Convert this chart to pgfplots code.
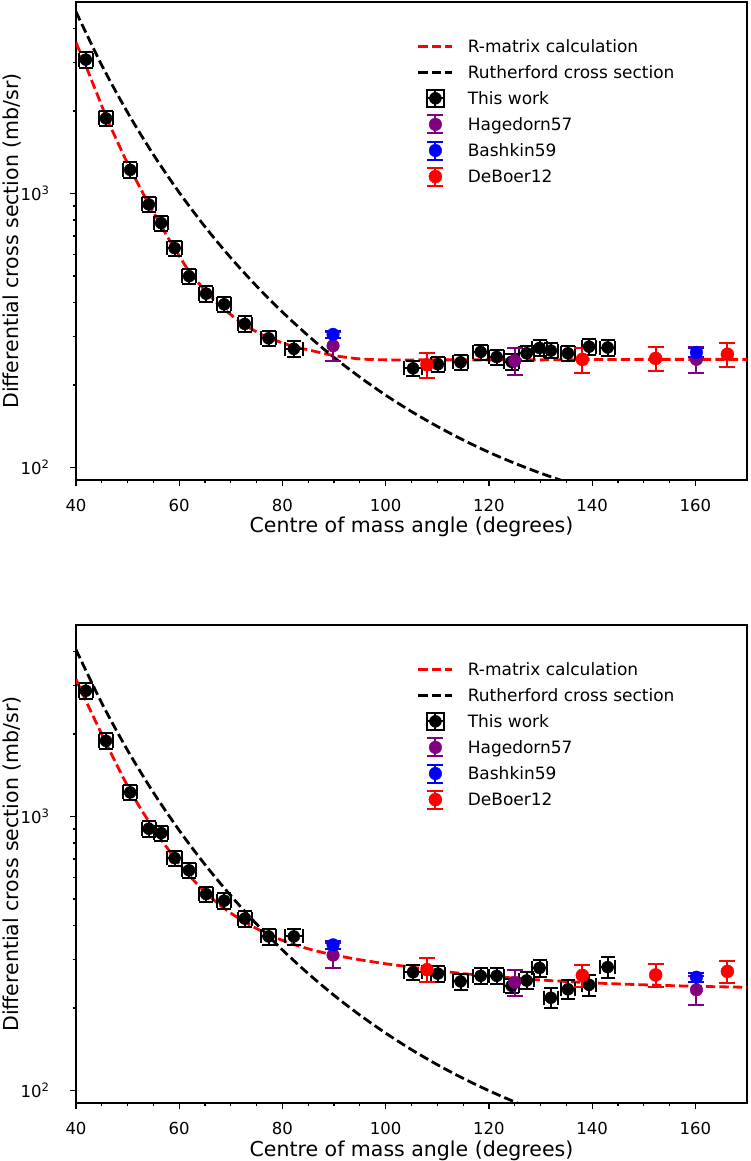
\documentclass[border=0pt]{standalone}
\usepackage{fontspec}
\setmainfont{DejaVu Sans}
\usepackage{pgfplots}
\pgfplotsset{compat=1.18}
\usepackage{pgfplotstable}

\definecolor{mplpurple}{HTML}{800080}

\tikzset{
  rdash/.style={red, line width=2.8pt, dash pattern=on 9.4pt off 4.1pt},
  kdash/.style={black, line width=2.8pt, dash pattern=on 9.4pt off 4.1pt},
}

% ---------------- upper panel ----------------
\pgfplotstableread{
x y
40 3556
42 2891
44 2328
46 1875
48 1549
50 1285
52 1086
54 923
56 791
58 681
60 592
62 516
64 465
66 422
68 388
70 361
72 338
74 320
77 299
80 285
82 277
86 266
90 256
95 249
100 247
110 247
120 247
130 247
140 247.5
150 248
160 248
170 248
}\topRmatrix

\pgfplotstableread{
x y
40 4604
45 2937
50 1975
55 1386
60 1008
65 755.9
70 582.1
75 458.7
80 369.0
85 302.4
90 252.0
95 213.6
100 183.6
105 160.0
110 141.2
115 126.0
120 113.6
125 103.6
130 95.3
135 88.4
}\topRuth

\pgfplotstableread{
x y ex ey
41.9 3080 1.4 200
45.8 1880 1.4 122
50.5 1220 1.4 79
54.1 912 1.4 59
56.5 780 1.4 51
59.1 632 1.4 41
61.9 499 1.4 32
65.2 431 1.4 28
68.7 394 1.4 26
72.7 334 1.4 22
77.3 296 1.4 19
82.2 271 1.8 18
105.3 230 1.8 15
110.1 238 1.4 15
114.5 242 1.4 16
118.4 264 1.4 17
121.5 253 1.4 16
124.4 243 1.4 16
127.3 261 1.4 17
129.8 273 1.4 18
132.0 267 1.4 17
135.3 261 1.4 17
139.4 276 1.4 18
143.0 274 1.4 18
}\topWork

\pgfplotstableread{
x y ey
89.8 278 33
125.0 245 28
160.2 248 27
}\topHag

\pgfplotstableread{
x y ey
89.8 306 10
160.2 263 11
}\topBash

\pgfplotstableread{
x y ey
108.0 237 25
138.1 248 26
152.3 250 26
166.2 259 26
}\topDeB

% ---------------- lower panel ----------------
\pgfplotstableread{
x y
40 3170
42 2624
44 2183
46 1824
48 1531
50 1291
52 1109
54 966
56 849
58 753
60 671
62 607
64 553
66 509
68 473
70 444
72 420
74 399
77 373
80 353
82 342
86 325
90 312
95 300
100 290
105 282
110 274
115 267
120 262
125 257
130 253
140 247
150 243
160 240
170 238
}\botRmatrix

\pgfplotstableread{
x y
40 4063
45 2592
50 1743
55 1223
60 889.6
65 667.1
70 513.7
75 404.8
80 325.7
85 266.9
90 222.4
95 188.4
100 161.9
105 140.9
110 124.2
115 110.7
120 99.8
125 90.8
130 83.4
}\botRuth

\pgfplotstableread{
x y ex ey
41.9 2877 1.4 187
45.8 1888 1.4 123
50.5 1224 1.4 80
54.1 902 1.4 59
56.5 870 1.4 57
59.1 705 1.4 46
61.9 636 1.4 41
65.2 521 1.4 34
68.7 493 1.4 32
72.7 424 1.4 28
77.3 365 1.4 24
82.2 365 1.8 24
105.3 270 1.8 18
110.1 267 1.4 18
114.5 250 1.4 17
118.4 262 1.4 18
121.5 262 1.4 18
124.4 241 1.4 15
127.3 252 1.4 18
129.8 280 1.4 20
132.0 218 1.4 18
135.3 234 1.4 18
139.4 243 1.4 21
143.0 282 1.4 25
}\botWork

\pgfplotstableread{
x y ey
89.8 312 33
125.0 248 27
160.2 233 28
}\botHag

\pgfplotstableread{
x y ey
89.8 340 11
160.2 259 10
}\botBash

\pgfplotstableread{
x y ey
108.0 276 28
138.1 263 25
152.3 264 25
166.2 272 26
}\botDeB

\begin{document}
\begin{tikzpicture}
\useasboundingbox (0pt,0pt) rectangle (750pt,1161pt);

\pgfplotsset{every axis/.append style={
    scale only axis, width=671pt, height=478pt,
    xmin=40, xmax=170, ymin=90, ymax=5000,
    xtick={40,60,...,160}, minor x tick num=3,
    ytick={100,1000},
    yticklabels={\fontsize{16.5}{19}\selectfont 10\textsuperscript{2},\fontsize{16.5}{19}\selectfont 10\textsuperscript{3}},
    minor ytick={200,300,400,500,600,700,800,900,2000,3000,4000},
    tick pos=left, tick align=outside,
    major tick length=6pt, minor tick length=3.5pt,
    tick style={black, line width=1.2pt},
    axis line style={line width=1.3pt},
    /pgf/number format/assume math mode=true,
    xticklabel style={font=\fontsize{16.5}{19}\selectfont, yshift=-9.5pt},
    yticklabel style={font=\fontsize{16.5}{19}\selectfont, xshift=-17pt},
    label style={font=\fontsize{20.5}{24}\selectfont},
    xlabel style={at={(axis description cs:0.5,-0.1109)}, anchor=base},
    ylabel style={at={(axis description cs:-0.0954,0.5)}, anchor=center},
    legend style={at={(axis description cs:0.5082,0.9286)}, anchor=north west,
      draw=none, fill=none, inner sep=0pt, outer sep=0pt,
      row sep=6.1pt, column sep=14pt,
      font=\fontsize{17}{20}\selectfont,
      nodes={inner sep=0pt, text height=16pt, text depth=4pt}},
    legend cell align=left,
}}

% upper panel
\begin{semilogyaxis}[at={(76pt,681pt)}, anchor=south west,
    xlabel={Centre of mass angle (degrees)},
    ylabel={Differential cross section (mb/sr)}]
  \addplot[rdash, smooth, forget plot] table {\topRmatrix};
  \addplot[kdash, smooth, forget plot] table {\topRuth};
  \addplot[only marks, mark=*, mark size=6pt, black, forget plot,
    error bars/x dir=both, error bars/x explicit,
    error bars/y dir=both, error bars/y explicit,
    error bars/error bar style={line width=2pt, black},
    error bars/error mark options={rotate=90, line width=2pt, mark size=7pt, black}]
    table[x=x, y=y, x error=ex, y error=ey] {\topWork};
  \addplot[only marks, mark=*, mark size=6.3pt, mplpurple, forget plot,
    error bars/y dir=both, error bars/y explicit,
    error bars/error bar style={line width=2pt, mplpurple},
    error bars/error mark options={rotate=90, line width=2pt, mark size=8pt, mplpurple}]
    table[x=x, y=y, y error=ey] {\topHag};
  \addplot[only marks, mark=*, mark size=6.3pt, blue, forget plot,
    error bars/y dir=both, error bars/y explicit,
    error bars/error bar style={line width=2pt, blue},
    error bars/error mark options={rotate=90, line width=2pt, mark size=8pt, blue}]
    table[x=x, y=y, y error=ey] {\topBash};
  \addplot[only marks, mark=*, mark size=6.5pt, red, forget plot,
    error bars/y dir=both, error bars/y explicit,
    error bars/error bar style={line width=2pt, red},
    error bars/error mark options={rotate=90, line width=2pt, mark size=8pt, red}]
    table[x=x, y=y, y error=ey] {\topDeB};
  \addlegendimage{legend image code/.code={\draw[rdash] (0pt,0pt) -- (34pt,0pt);}}
  \addlegendentry{R-matrix calculation}
  \addlegendimage{legend image code/.code={\draw[kdash] (0pt,0pt) -- (34pt,0pt);}}
  \addlegendentry{Rutherford cross section}
  \addlegendimage{legend image code/.code={
    \draw[black, line width=2pt] (8.5pt,-8.5pt) rectangle (25.5pt,8.5pt);
    \draw[black, line width=2pt] (17pt,-8.5pt) -- (17pt,8.5pt) (8.5pt,0pt) -- (25.5pt,0pt);
    \fill[black] (17pt,0pt) circle (6pt);}}
  \addlegendentry{This work}
  \addlegendimage{legend image code/.code={
    \draw[mplpurple, line width=2pt] (17pt,-9pt) -- (17pt,9pt) (9pt,-9pt) -- (25pt,-9pt) (9pt,9pt) -- (25pt,9pt);
    \fill[mplpurple] (17pt,0pt) circle (6.3pt);}}
  \addlegendentry{Hagedorn57}
  \addlegendimage{legend image code/.code={
    \draw[blue, line width=2pt] (17pt,-9pt) -- (17pt,9pt) (9pt,-9pt) -- (25pt,-9pt) (9pt,9pt) -- (25pt,9pt);
    \fill[blue] (17pt,0pt) circle (6.3pt);}}
  \addlegendentry{Bashkin59}
  \addlegendimage{legend image code/.code={
    \draw[red, line width=2pt] (17pt,-9pt) -- (17pt,9pt) (9pt,-9pt) -- (25pt,-9pt) (9pt,9pt) -- (25pt,9pt);
    \fill[red] (17pt,0pt) circle (6.5pt);}}
  \addlegendentry{DeBoer12}
\end{semilogyaxis}

% lower panel
\begin{semilogyaxis}[at={(76pt,58pt)}, anchor=south west,
    xlabel={Centre of mass angle (degrees)},
    ylabel={Differential cross section (mb/sr)}]
  \addplot[rdash, smooth, forget plot] table {\botRmatrix};
  \addplot[kdash, smooth, forget plot] table {\botRuth};
  \addplot[only marks, mark=*, mark size=6pt, black, forget plot,
    error bars/x dir=both, error bars/x explicit,
    error bars/y dir=both, error bars/y explicit,
    error bars/error bar style={line width=2pt, black},
    error bars/error mark options={rotate=90, line width=2pt, mark size=7pt, black}]
    table[x=x, y=y, x error=ex, y error=ey] {\botWork};
  \addplot[only marks, mark=*, mark size=6.3pt, mplpurple, forget plot,
    error bars/y dir=both, error bars/y explicit,
    error bars/error bar style={line width=2pt, mplpurple},
    error bars/error mark options={rotate=90, line width=2pt, mark size=8pt, mplpurple}]
    table[x=x, y=y, y error=ey] {\botHag};
  \addplot[only marks, mark=*, mark size=6.3pt, blue, forget plot,
    error bars/y dir=both, error bars/y explicit,
    error bars/error bar style={line width=2pt, blue},
    error bars/error mark options={rotate=90, line width=2pt, mark size=8pt, blue}]
    table[x=x, y=y, y error=ey] {\botBash};
  \addplot[only marks, mark=*, mark size=6.5pt, red, forget plot,
    error bars/y dir=both, error bars/y explicit,
    error bars/error bar style={line width=2pt, red},
    error bars/error mark options={rotate=90, line width=2pt, mark size=8pt, red}]
    table[x=x, y=y, y error=ey] {\botDeB};
  \addlegendimage{legend image code/.code={\draw[rdash] (0pt,0pt) -- (34pt,0pt);}}
  \addlegendentry{R-matrix calculation}
  \addlegendimage{legend image code/.code={\draw[kdash] (0pt,0pt) -- (34pt,0pt);}}
  \addlegendentry{Rutherford cross section}
  \addlegendimage{legend image code/.code={
    \draw[black, line width=2pt] (8.5pt,-8.5pt) rectangle (25.5pt,8.5pt);
    \draw[black, line width=2pt] (17pt,-8.5pt) -- (17pt,8.5pt) (8.5pt,0pt) -- (25.5pt,0pt);
    \fill[black] (17pt,0pt) circle (6pt);}}
  \addlegendentry{This work}
  \addlegendimage{legend image code/.code={
    \draw[mplpurple, line width=2pt] (17pt,-9pt) -- (17pt,9pt) (9pt,-9pt) -- (25pt,-9pt) (9pt,9pt) -- (25pt,9pt);
    \fill[mplpurple] (17pt,0pt) circle (6.3pt);}}
  \addlegendentry{Hagedorn57}
  \addlegendimage{legend image code/.code={
    \draw[blue, line width=2pt] (17pt,-9pt) -- (17pt,9pt) (9pt,-9pt) -- (25pt,-9pt) (9pt,9pt) -- (25pt,9pt);
    \fill[blue] (17pt,0pt) circle (6.3pt);}}
  \addlegendentry{Bashkin59}
  \addlegendimage{legend image code/.code={
    \draw[red, line width=2pt] (17pt,-9pt) -- (17pt,9pt) (9pt,-9pt) -- (25pt,-9pt) (9pt,9pt) -- (25pt,9pt);
    \fill[red] (17pt,0pt) circle (6.5pt);}}
  \addlegendentry{DeBoer12}
\end{semilogyaxis}
\end{tikzpicture}
\end{document}
